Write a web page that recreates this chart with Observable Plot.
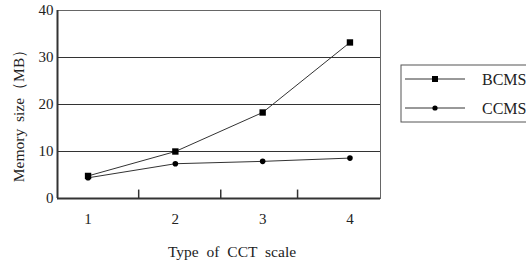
<!DOCTYPE html>
<html>
<head>
<meta charset="utf-8">
<script src="https://cdn.jsdelivr.net/npm/d3@7"></script>
<script src="https://cdn.jsdelivr.net/npm/@observablehq/plot@0.6"></script>
<style>
  html, body { margin: 0; padding: 0; background: #fff; }
  #chart { position: relative; width: 526px; height: 263px; overflow: hidden; }
  #chart svg, #chart svg text { font-family: 'Liberation Serif', 'Times New Roman', serif !important; }
</style>
</head>
<body>
<div id="chart"></div>
<script>
const scales = [1, 2, 3, 4];
const bcms = [4.8, 10.0, 18.3, 33.2];
const ccms = [4.4, 7.4, 7.9, 8.6];
const seriesNames = ["BCMS", "CCMS"];
const yTicks = [0, 10, 20, 30, 40];
const gridValues = [10, 20, 30];
const minorTicks = [1.58, 2.52, 3.4];

const data = [
  ...scales.map((s, i) => ({scale: s, value: bcms[i], series: "BCMS"})),
  ...scales.map((s, i) => ({scale: s, value: ccms[i], series: "CCMS"}))
];

const plot = Plot.plot({
  width: 526,
  height: 263,
  marginLeft: 57,
  marginRight: 146,
  marginTop: 10,
  marginBottom: 65,
  style: {fontSize: "15px", background: "#fff", color: "#222"},
  x: {type: "linear", domain: [0.65, 4.35]},
  y: {domain: [0, 40]},
  marks: [
    Plot.gridY(gridValues, {stroke: "#333", strokeOpacity: 1, strokeWidth: 1.1}),
    Plot.frame({stroke: "#666", strokeWidth: 1}),
    Plot.axisY(yTicks, {tickSize: 0, tickPadding: 4, label: null, fontSize: 15, fill: "#222"}),
    Plot.axisX(scales, {tickSize: 0, tickPadding: 15, label: null, fontSize: 15, fill: "#222"}),
    Plot.ruleX(minorTicks, {x: d => d, y1: 0, y2: 1.8, stroke: "#333", strokeWidth: 1.5}),
    Plot.ruleX([0.65], {stroke: "#333", strokeWidth: 2}),
    Plot.ruleY([0], {stroke: "#333", strokeWidth: 2}),
    Plot.line(data, {x: "scale", y: "value", z: "series", stroke: "#333", strokeWidth: 1}),
    Plot.dot(data.filter(d => d.series === "BCMS"), {x: "scale", y: "value", symbol: "square", r: 3.6, fill: "#000", stroke: "none"}),
    Plot.dot(data.filter(d => d.series === "CCMS"), {x: "scale", y: "value", symbol: "circle", r: 2.8, fill: "#000", stroke: "none"})
  ]
});

document.getElementById("chart").appendChild(plot);

// axis titles and legend
const svg = d3.select(plot);
svg.append("text")
  .attr("transform", "translate(24,112) rotate(-90)")
  .attr("text-anchor", "middle")
  .attr("font-size", 15.5)
  .attr("fill", "#222")
  .attr("word-spacing", "3")
  .text("Memory size（MB）");
svg.append("text")
  .attr("x", 232).attr("y", 257)
  .attr("text-anchor", "middle")
  .attr("font-size", 15.5)
  .attr("fill", "#222")
  .attr("word-spacing", "4")
  .text("Type of CCT scale");

const lg = svg.append("g");
lg.append("rect").attr("x", 401).attr("y", 65).attr("width", 140).attr("height", 57)
  .attr("fill", "#fff").attr("stroke", "#555").attr("stroke-width", 1);
seriesNames.forEach((name, i) => {
  const yy = i === 0 ? 79 : 108;
  lg.append("line").attr("x1", 405).attr("x2", 465).attr("y1", yy).attr("y2", yy).attr("stroke", "#333");
  if (i === 0) lg.append("rect").attr("x", 432).attr("y", yy - 3).attr("width", 6).attr("height", 6).attr("fill", "#000");
  else lg.append("circle").attr("cx", 435).attr("cy", yy).attr("r", 2.6).attr("fill", "#000");
  lg.append("text").attr("x", 482).attr("y", yy + 6).attr("text-anchor", "start")
    .attr("font-size", 16).attr("fill", "#222").text(name);
});
</script>
</body>
</html>
